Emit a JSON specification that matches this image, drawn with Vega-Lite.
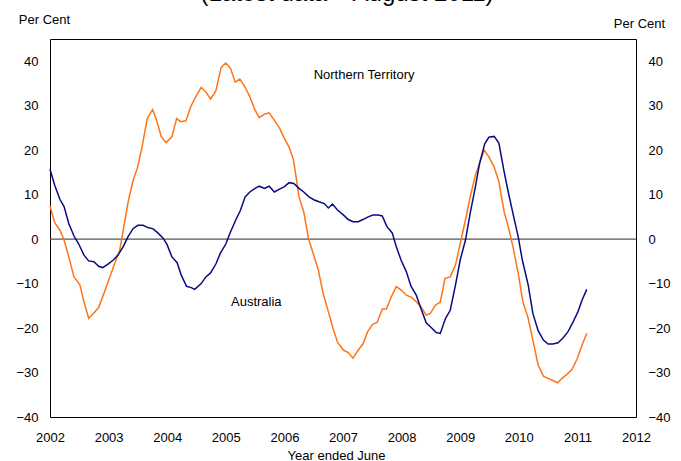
{
  "$schema": "https://vega.github.io/schema/vega-lite/v6.json",
  "width": 586,
  "height": 378,
  "autosize": {"type": "none"},
  "padding": {"left": 50, "top": 39, "right": 45, "bottom": 44},
  "background": "white",
  "title": {"text": "(Latest data – August 2011)", "font": "Liberation Sans", "fontSize": 24, "fontWeight": "normal", "color": "black", "anchor": "middle", "offset": 8, "dx": 4},
  "config": {
    "view": {"stroke": "black", "strokeWidth": 1},
    "axis": {"labelFont": "Liberation Sans", "labelFontSize": 13, "labelColor": "black", "titleFont": "Liberation Sans", "titleFontSize": 13, "titleFontWeight": "normal", "titleColor": "black", "ticks": false, "domain": false, "grid": false}
  },
  "datasets": {
    "series": [
      {"s": "NT", "t": 2002.0, "v": 7.5}, {"s": "NT", "t": 2002.08, "v": 3.7}, {"s": "NT", "t": 2002.17, "v": 2.0}, {"s": "NT", "t": 2002.24, "v": -0.2}, {"s": "NT", "t": 2002.32, "v": -4.0}, {"s": "NT", "t": 2002.41, "v": -8.5}, {"s": "NT", "t": 2002.51, "v": -10.3}, {"s": "NT", "t": 2002.58, "v": -14.1}, {"s": "NT", "t": 2002.66, "v": -17.8}, {"s": "NT", "t": 2002.73, "v": -16.9}, {"s": "NT", "t": 2002.83, "v": -15.4}, {"s": "NT", "t": 2002.92, "v": -12.2}, {"s": "NT", "t": 2003.02, "v": -8.6}, {"s": "NT", "t": 2003.10, "v": -5.6}, {"s": "NT", "t": 2003.19, "v": -2.5}, {"s": "NT", "t": 2003.26, "v": 2.8}, {"s": "NT", "t": 2003.34, "v": 8.8}, {"s": "NT", "t": 2003.42, "v": 13.3}, {"s": "NT", "t": 2003.49, "v": 15.9}, {"s": "NT", "t": 2003.57, "v": 20.7}, {"s": "NT", "t": 2003.66, "v": 27.1}, {"s": "NT", "t": 2003.75, "v": 29.1}, {"s": "NT", "t": 2003.81, "v": 27.1}, {"s": "NT", "t": 2003.90, "v": 23.0}, {"s": "NT", "t": 2003.98, "v": 21.7}, {"s": "NT", "t": 2004.08, "v": 23.0}, {"s": "NT", "t": 2004.16, "v": 27.1}, {"s": "NT", "t": 2004.23, "v": 26.4}, {"s": "NT", "t": 2004.32, "v": 26.6}, {"s": "NT", "t": 2004.40, "v": 29.7}, {"s": "NT", "t": 2004.47, "v": 31.6}, {"s": "NT", "t": 2004.58, "v": 34.1}, {"s": "NT", "t": 2004.66, "v": 33.1}, {"s": "NT", "t": 2004.74, "v": 31.5}, {"s": "NT", "t": 2004.83, "v": 33.3}, {"s": "NT", "t": 2004.92, "v": 38.6}, {"s": "NT", "t": 2005.00, "v": 39.6}, {"s": "NT", "t": 2005.08, "v": 38.4}, {"s": "NT", "t": 2005.16, "v": 35.3}, {"s": "NT", "t": 2005.24, "v": 36.0}, {"s": "NT", "t": 2005.33, "v": 34.2}, {"s": "NT", "t": 2005.41, "v": 32.0}, {"s": "NT", "t": 2005.50, "v": 29.0}, {"s": "NT", "t": 2005.57, "v": 27.3}, {"s": "NT", "t": 2005.66, "v": 28.1}, {"s": "NT", "t": 2005.74, "v": 28.4}, {"s": "NT", "t": 2005.83, "v": 26.7}, {"s": "NT", "t": 2005.92, "v": 24.9}, {"s": "NT", "t": 2006.00, "v": 22.6}, {"s": "NT", "t": 2006.08, "v": 20.7}, {"s": "NT", "t": 2006.15, "v": 18.1}, {"s": "NT", "t": 2006.19, "v": 14.8}, {"s": "NT", "t": 2006.25, "v": 9.5}, {"s": "NT", "t": 2006.33, "v": 6.1}, {"s": "NT", "t": 2006.41, "v": 0.2}, {"s": "NT", "t": 2006.49, "v": -3.2}, {"s": "NT", "t": 2006.58, "v": -7.0}, {"s": "NT", "t": 2006.66, "v": -12.2}, {"s": "NT", "t": 2006.75, "v": -16.3}, {"s": "NT", "t": 2006.83, "v": -20.1}, {"s": "NT", "t": 2006.91, "v": -23.3}, {"s": "NT", "t": 2007.01, "v": -25.0}, {"s": "NT", "t": 2007.09, "v": -25.5}, {"s": "NT", "t": 2007.17, "v": -26.8}, {"s": "NT", "t": 2007.25, "v": -25.1}, {"s": "NT", "t": 2007.34, "v": -23.6}, {"s": "NT", "t": 2007.42, "v": -20.8}, {"s": "NT", "t": 2007.51, "v": -19.1}, {"s": "NT", "t": 2007.58, "v": -18.8}, {"s": "NT", "t": 2007.67, "v": -15.7}, {"s": "NT", "t": 2007.74, "v": -15.7}, {"s": "NT", "t": 2007.82, "v": -13.1}, {"s": "NT", "t": 2007.91, "v": -10.7}, {"s": "NT", "t": 2008.00, "v": -11.5}, {"s": "NT", "t": 2008.08, "v": -12.6}, {"s": "NT", "t": 2008.17, "v": -13.1}, {"s": "NT", "t": 2008.25, "v": -14.1}, {"s": "NT", "t": 2008.33, "v": -15.2}, {"s": "NT", "t": 2008.42, "v": -17.1}, {"s": "NT", "t": 2008.49, "v": -16.7}, {"s": "NT", "t": 2008.58, "v": -14.8}, {"s": "NT", "t": 2008.66, "v": -14.2}, {"s": "NT", "t": 2008.74, "v": -8.8}, {"s": "NT", "t": 2008.83, "v": -8.5}, {"s": "NT", "t": 2008.92, "v": -5.8}, {"s": "NT", "t": 2009.00, "v": -1.0}, {"s": "NT", "t": 2009.09, "v": 4.3}, {"s": "NT", "t": 2009.17, "v": 9.5}, {"s": "NT", "t": 2009.26, "v": 14.4}, {"s": "NT", "t": 2009.33, "v": 17.0}, {"s": "NT", "t": 2009.41, "v": 20.0}, {"s": "NT", "t": 2009.49, "v": 18.5}, {"s": "NT", "t": 2009.58, "v": 16.2}, {"s": "NT", "t": 2009.66, "v": 12.9}, {"s": "NT", "t": 2009.75, "v": 6.1}, {"s": "NT", "t": 2009.82, "v": 2.8}, {"s": "NT", "t": 2009.90, "v": -1.7}, {"s": "NT", "t": 2009.99, "v": -7.7}, {"s": "NT", "t": 2010.07, "v": -14.1}, {"s": "NT", "t": 2010.16, "v": -17.8}, {"s": "NT", "t": 2010.24, "v": -22.7}, {"s": "NT", "t": 2010.33, "v": -28.3}, {"s": "NT", "t": 2010.42, "v": -30.8}, {"s": "NT", "t": 2010.50, "v": -31.3}, {"s": "NT", "t": 2010.58, "v": -31.8}, {"s": "NT", "t": 2010.66, "v": -32.3}, {"s": "NT", "t": 2010.74, "v": -31.3}, {"s": "NT", "t": 2010.83, "v": -30.3}, {"s": "NT", "t": 2010.91, "v": -29.3}, {"s": "NT", "t": 2011.00, "v": -26.8}, {"s": "NT", "t": 2011.08, "v": -23.8}, {"s": "NT", "t": 2011.16, "v": -21.2},
      {"s": "AUS", "t": 2002.0, "v": 15.7}, {"s": "AUS", "t": 2002.08, "v": 12.1}, {"s": "AUS", "t": 2002.17, "v": 8.9}, {"s": "AUS", "t": 2002.24, "v": 7.3}, {"s": "AUS", "t": 2002.32, "v": 3.5}, {"s": "AUS", "t": 2002.41, "v": 0.7}, {"s": "AUS", "t": 2002.49, "v": -1.1}, {"s": "AUS", "t": 2002.58, "v": -3.6}, {"s": "AUS", "t": 2002.66, "v": -4.9}, {"s": "AUS", "t": 2002.75, "v": -5.1}, {"s": "AUS", "t": 2002.83, "v": -6.1}, {"s": "AUS", "t": 2002.90, "v": -6.4}, {"s": "AUS", "t": 2002.99, "v": -5.6}, {"s": "AUS", "t": 2003.08, "v": -4.7}, {"s": "AUS", "t": 2003.16, "v": -3.6}, {"s": "AUS", "t": 2003.25, "v": -1.7}, {"s": "AUS", "t": 2003.33, "v": 0.5}, {"s": "AUS", "t": 2003.42, "v": 2.4}, {"s": "AUS", "t": 2003.50, "v": 3.1}, {"s": "AUS", "t": 2003.59, "v": 3.1}, {"s": "AUS", "t": 2003.67, "v": 2.6}, {"s": "AUS", "t": 2003.76, "v": 2.3}, {"s": "AUS", "t": 2003.84, "v": 1.4}, {"s": "AUS", "t": 2003.93, "v": 0.2}, {"s": "AUS", "t": 2004.00, "v": -1.3}, {"s": "AUS", "t": 2004.08, "v": -4.0}, {"s": "AUS", "t": 2004.17, "v": -5.3}, {"s": "AUS", "t": 2004.24, "v": -8.1}, {"s": "AUS", "t": 2004.33, "v": -10.6}, {"s": "AUS", "t": 2004.41, "v": -10.9}, {"s": "AUS", "t": 2004.47, "v": -11.3}, {"s": "AUS", "t": 2004.58, "v": -10.0}, {"s": "AUS", "t": 2004.66, "v": -8.5}, {"s": "AUS", "t": 2004.74, "v": -7.6}, {"s": "AUS", "t": 2004.83, "v": -5.6}, {"s": "AUS", "t": 2004.91, "v": -3.1}, {"s": "AUS", "t": 2005.00, "v": -1.1}, {"s": "AUS", "t": 2005.08, "v": 1.6}, {"s": "AUS", "t": 2005.17, "v": 4.3}, {"s": "AUS", "t": 2005.25, "v": 6.5}, {"s": "AUS", "t": 2005.33, "v": 9.5}, {"s": "AUS", "t": 2005.41, "v": 10.6}, {"s": "AUS", "t": 2005.50, "v": 11.4}, {"s": "AUS", "t": 2005.57, "v": 11.9}, {"s": "AUS", "t": 2005.66, "v": 11.4}, {"s": "AUS", "t": 2005.74, "v": 11.9}, {"s": "AUS", "t": 2005.83, "v": 10.6}, {"s": "AUS", "t": 2005.91, "v": 11.2}, {"s": "AUS", "t": 2006.00, "v": 11.8}, {"s": "AUS", "t": 2006.08, "v": 12.7}, {"s": "AUS", "t": 2006.16, "v": 12.5}, {"s": "AUS", "t": 2006.25, "v": 11.4}, {"s": "AUS", "t": 2006.33, "v": 10.6}, {"s": "AUS", "t": 2006.42, "v": 9.5}, {"s": "AUS", "t": 2006.51, "v": 8.8}, {"s": "AUS", "t": 2006.59, "v": 8.4}, {"s": "AUS", "t": 2006.68, "v": 8.0}, {"s": "AUS", "t": 2006.75, "v": 7.0}, {"s": "AUS", "t": 2006.82, "v": 7.9}, {"s": "AUS", "t": 2006.91, "v": 6.5}, {"s": "AUS", "t": 2007.01, "v": 5.4}, {"s": "AUS", "t": 2007.09, "v": 4.4}, {"s": "AUS", "t": 2007.17, "v": 3.9}, {"s": "AUS", "t": 2007.26, "v": 3.9}, {"s": "AUS", "t": 2007.34, "v": 4.4}, {"s": "AUS", "t": 2007.43, "v": 5.0}, {"s": "AUS", "t": 2007.51, "v": 5.4}, {"s": "AUS", "t": 2007.60, "v": 5.4}, {"s": "AUS", "t": 2007.67, "v": 5.2}, {"s": "AUS", "t": 2007.75, "v": 2.8}, {"s": "AUS", "t": 2007.84, "v": 1.4}, {"s": "AUS", "t": 2007.91, "v": -1.7}, {"s": "AUS", "t": 2007.99, "v": -4.7}, {"s": "AUS", "t": 2008.08, "v": -7.3}, {"s": "AUS", "t": 2008.16, "v": -10.6}, {"s": "AUS", "t": 2008.25, "v": -12.6}, {"s": "AUS", "t": 2008.33, "v": -15.6}, {"s": "AUS", "t": 2008.42, "v": -18.8}, {"s": "AUS", "t": 2008.50, "v": -19.8}, {"s": "AUS", "t": 2008.59, "v": -21.0}, {"s": "AUS", "t": 2008.66, "v": -21.2}, {"s": "AUS", "t": 2008.75, "v": -17.8}, {"s": "AUS", "t": 2008.83, "v": -16.0}, {"s": "AUS", "t": 2008.92, "v": -10.3}, {"s": "AUS", "t": 2009.00, "v": -4.7}, {"s": "AUS", "t": 2009.09, "v": -0.2}, {"s": "AUS", "t": 2009.17, "v": 5.8}, {"s": "AUS", "t": 2009.26, "v": 11.8}, {"s": "AUS", "t": 2009.33, "v": 17.0}, {"s": "AUS", "t": 2009.42, "v": 21.5}, {"s": "AUS", "t": 2009.49, "v": 22.9}, {"s": "AUS", "t": 2009.58, "v": 23.1}, {"s": "AUS", "t": 2009.66, "v": 21.6}, {"s": "AUS", "t": 2009.75, "v": 15.1}, {"s": "AUS", "t": 2009.82, "v": 10.6}, {"s": "AUS", "t": 2009.90, "v": 5.8}, {"s": "AUS", "t": 2009.99, "v": 0.5}, {"s": "AUS", "t": 2010.06, "v": -4.7}, {"s": "AUS", "t": 2010.16, "v": -10.3}, {"s": "AUS", "t": 2010.24, "v": -16.7}, {"s": "AUS", "t": 2010.33, "v": -20.6}, {"s": "AUS", "t": 2010.42, "v": -22.7}, {"s": "AUS", "t": 2010.50, "v": -23.6}, {"s": "AUS", "t": 2010.58, "v": -23.6}, {"s": "AUS", "t": 2010.67, "v": -23.3}, {"s": "AUS", "t": 2010.75, "v": -22.3}, {"s": "AUS", "t": 2010.84, "v": -20.8}, {"s": "AUS", "t": 2010.92, "v": -18.8}, {"s": "AUS", "t": 2011.01, "v": -16.3}, {"s": "AUS", "t": 2011.08, "v": -13.7}, {"s": "AUS", "t": 2011.16, "v": -11.3}
    ],
    "labels": [
      {"label": "Northern Territory", "t": 2007.36, "v": 36.9},
      {"label": "Australia", "t": 2005.52, "v": -14.2}
    ]
  },
  "resolve": {"scale": {"y": "independent"}},
  "layer": [
    {
      "data": {"values": [{}]},
      "mark": {"type": "rule", "color": "#555555", "strokeWidth": 1.2},
      "encoding": {
        "y": {"datum": 0, "type": "quantitative", "scale": {"domain": [-40, 45], "nice": false},
          "axis": {"orient": "right", "values": [-40, -30, -20, -10, 0, 10, 20, 30, 40], "labelPadding": 12, "title": "Per Cent", "titleAngle": 0, "titleAlign": "center", "titleBaseline": "middle", "titleX": 3, "titleY": -16}}
      }
    },
    {
      "data": {"name": "series"},
      "mark": {"type": "line", "strokeWidth": 1.5},
      "encoding": {
        "x": {"field": "t", "type": "quantitative", "scale": {"domain": [2002, 2012], "nice": false, "zero": false},
          "axis": {"values": [2002, 2003, 2004, 2005, 2006, 2007, 2008, 2009, 2010, 2011, 2012], "format": "d", "labelPadding": 14, "labelFlush": false, "title": "Year ended June", "titlePadding": 5, "titleX": 286, "titleAlign": "center"}},
        "y": {"field": "v", "type": "quantitative", "scale": {"domain": [-40, 45], "nice": false},
          "axis": {"orient": "left", "values": [-40, -30, -20, -10, 0, 10, 20, 30, 40], "labelPadding": 12, "title": "Per Cent", "titleAngle": 0, "titleAlign": "center", "titleBaseline": "middle", "titleX": -6, "titleY": -19.5}},
        "color": {"field": "s", "type": "nominal", "scale": {"domain": ["NT", "AUS"], "range": ["#ff7417", "#0b0b80"]}, "legend": null}
      }
    },
    {
      "data": {"name": "labels"},
      "mark": {"type": "text", "font": "Liberation Sans", "fontSize": 13, "color": "black", "align": "center", "baseline": "middle"},
      "encoding": {
        "x": {"field": "t", "type": "quantitative"},
        "y": {"field": "v", "type": "quantitative", "scale": {"domain": [-40, 45], "nice": false}, "axis": null},
        "text": {"field": "label"}
      }
    }
  ]
}
